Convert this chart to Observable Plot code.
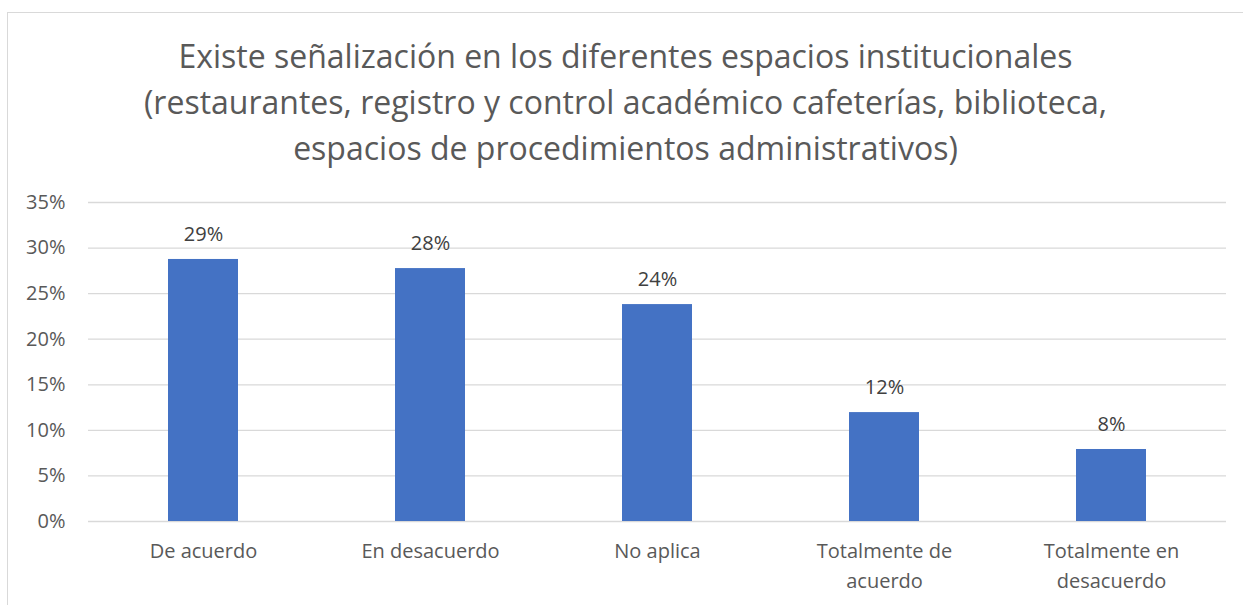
<!DOCTYPE html>
<html>
<head>
<meta charset="utf-8">
<script src="https://cdn.jsdelivr.net/npm/d3@7"></script>
<script src="https://cdn.jsdelivr.net/npm/@observablehq/plot@0.6"></script>
<style>
  html, body { margin: 0; padding: 0; background: #fff; overflow: hidden; }
  #frame {
    position: absolute; left: 7px; top: 12px; width: 1250px; height: 620px;
    border: 1px solid #d9d9d9; box-sizing: border-box; background: #fff;
  }
  #title {
    font-family: "Open Sans", sans-serif; font-size: 32px; line-height: 46px;
    color: #595959; text-align: center; padding-top: 20px; height: 137px;
    width: 1235px; overflow: visible;
  }
  #chart svg { display: block; }
</style>
</head>
<body>
<div id="frame">
  <div id="title">Existe señalización en los diferentes espacios institucionales<br>(restaurantes, registro y control académico cafeterías, biblioteca,<br>espacios de procedimientos administrativos)</div>
  <div id="chart"></div>
</div>
<script>
const categories = ["De acuerdo", "En desacuerdo", "No aplica", "Totalmente de acuerdo", "Totalmente en desacuerdo"];
const values = [0.2875, 0.2775, 0.238, 0.1195, 0.079];
const yTicks = [0, 0.05, 0.10, 0.15, 0.20, 0.25, 0.30, 0.35];

const data = categories.map((c, i) => ({category: c, value: values[i]}));

const chart = Plot.plot({
  width: 1235,
  height: 430,
  marginTop: 32,
  marginBottom: 79,
  marginLeft: 80,
  marginRight: 17,
  style: {fontFamily: "'Open Sans', sans-serif", fontSize: "20px", color: "#595959", background: "#fff"},
  x: {domain: categories, paddingInner: 0.69, paddingOuter: 0.345, label: null},
  y: {domain: [0, 0.35], label: null},
  marks: [
    Plot.gridY(yTicks, {stroke: "#d9d9d9", strokeOpacity: 1, strokeWidth: 1.3}),
    Plot.axisY({ticks: yTicks, tickFormat: d3.format(".0%"), tickSize: 0, tickPadding: 23, fontSize: 20, label: null}),
    Plot.axisX({tickSize: 0, tickPadding: 15, fontSize: 20, lineWidth: 8, lineHeight: 1.5, label: null}),
    Plot.barY(data, {x: "category", y: "value", fill: "#4472c4"}),
    Plot.text(data, {x: "category", y: "value", text: d => d3.format(".0%")(d.value), dy: -25, lineAnchor: "middle", fill: "#404040", fontSize: 20})
  ]
});
document.getElementById("chart").appendChild(chart);
</script>
</body>
</html>
